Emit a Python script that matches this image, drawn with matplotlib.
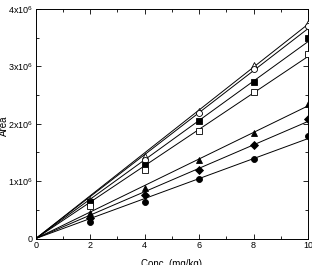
import numpy as np
import matplotlib
matplotlib.use("Agg")
import matplotlib.pyplot as plt
from matplotlib.ticker import MultipleLocator, FixedLocator

plt.rcParams['font.family'] = ['Liberation Sans', 'DejaVu Sans']
plt.rcParams['mathtext.fontset'] = 'custom'
plt.rcParams['mathtext.rm'] = 'Liberation Sans'

# Concentration levels (mg/kg)
conc = [2, 4, 6, 8, 10]

# Peak areas for each compound
open_tri = [0.67e6, 1.43e6, 2.22e6, 3.02e6, 3.76e6]
open_circ = [0.65e6, 1.37e6, 2.18e6, 2.95e6, 3.70e6]
fill_sq = [0.63e6, 1.28e6, 2.04e6, 2.73e6, 3.50e6]
open_sq = [0.56e6, 1.20e6, 1.88e6, 2.56e6, 3.21e6]
fill_tri = [0.44e6, 0.88e6, 1.37e6, 1.84e6, 2.35e6]
fill_dia = [0.35e6, 0.76e6, 1.20e6, 1.63e6, 2.09e6]
fill_circ = [0.29e6, 0.64e6, 1.04e6, 1.39e6, 1.78e6]

y_ticks = [0, 1e6, 2e6, 3e6, 4e6]
y_labels = ['0', '1x10$^6$', '2x10$^6$', '3x10$^6$', '4x10$^6$']

series = [
    (open_tri, '^', 'white'),
    (open_circ, 'o', 'white'),
    (fill_sq, 's', 'black'),
    (open_sq, 's', 'white'),
    (fill_tri, '^', 'black'),
    (fill_dia, 'D', 'black'),
    (fill_circ, 'o', 'black'),
]

fig = plt.figure(figsize=(3.12, 2.65), dpi=100)
ax = fig.add_axes([0.115, 0.1, 0.872, 0.866])

x = np.array(conc, dtype=float)
xf = np.array([0, 10.0])
for vals, mk, fc in series:
    y = np.array(vals)
    # linear fit through origin
    slope = np.sum(x * y) / np.sum(x * x)
    ax.plot(xf, slope * xf, color='black', lw=0.7, zorder=2)
    ms = 3.6 if mk == 'D' else 4.3
    ax.plot(x, y, ls='none', marker=mk, ms=ms, mfc=fc, mec='black', mew=0.6, zorder=3)

ax.set_xlim(0, 10)
ax.set_ylim(0, 4e6)
ax.xaxis.set_major_locator(MultipleLocator(2))
ax.xaxis.set_minor_locator(MultipleLocator(1))
ax.yaxis.set_major_locator(FixedLocator(y_ticks))
ax.yaxis.set_minor_locator(MultipleLocator(0.5e6))
ax.set_yticklabels(y_labels)
ax.tick_params(which='both', direction='in', top=True, right=True, labelsize=6.5, width=0.6)
ax.tick_params(which='major', length=3.5, pad=2)
ax.tick_params(which='minor', length=2)
for sp in ax.spines.values():
    sp.set_linewidth(0.7)

ax.set_xlabel('Conc. (mg/kg)', fontsize=7)
ax.xaxis.set_label_coords(0.5, -0.09)
ax.set_ylabel('Area', fontsize=7)
ax.yaxis.set_label_coords(-0.1, 0.49)

fig.savefig('out.png', dpi=100)
